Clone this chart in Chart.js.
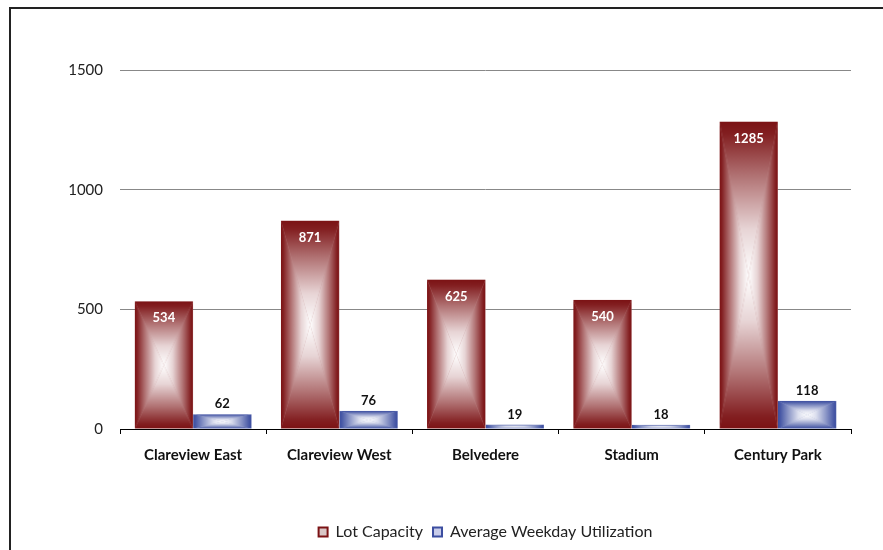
<!DOCTYPE html>
<html>
<head>
<meta charset="utf-8">
<script src="https://cdn.jsdelivr.net/npm/chart.js@4.4.1/dist/chart.umd.min.js"></script>
<style>
  html, body { margin: 0; padding: 0; background: #fff; }
  #wrap { position: relative; width: 883px; height: 550px; }
  #frame { position: absolute; left: 9px; top: 7px; right: 0; bottom: 0;
           border-left: 2px solid #222; border-top: 2px solid #222; }
  canvas { position: absolute; left: 0; top: 0; }
</style>
</head>
<body>
<div id="wrap">
  <div id="frame"></div>
  <canvas id="parkChart" width="883" height="550"></canvas>
</div>
<script>
const categories = ['Clareview East', 'Clareview West', 'Belvedere', 'Stadium', 'Century Park'];
const lotCapacity = [534, 871, 625, 540, 1285];
const weekdayUtilization = [62, 76, 19, 18, 118];
const yTicks = [0, 500, 1000, 1500];
const seriesNames = ['Lot Capacity', 'Average Weekday Utilization'];

const edgeColors = [[123, 18, 20], [60, 78, 160]];
const legendFills = ['#d9c6c6', '#c9cdea'];

function mix(rgb, t) {
    // t = 0 -> edge colour, t = 1 -> white
    const c = rgb.map(v => Math.round(v + (255 - v) * t));
    return `rgb(${c[0]},${c[1]},${c[2]})`;
}

function addStops(grad, rgb) {
    grad.addColorStop(0, mix(rgb, 0));
    grad.addColorStop(0.08, mix(rgb, 0.05));
    grad.addColorStop(0.35, mix(rgb, 0.4));
    grad.addColorStop(0.7, mix(rgb, 0.82));
    grad.addColorStop(1, mix(rgb, 1));
    return grad;
}

function tri(g, pts, fill) {
    g.beginPath();
    g.moveTo(pts[0][0], pts[0][1]);
    g.lineTo(pts[1][0], pts[1][1]);
    g.lineTo(pts[2][0], pts[2][1]);
    g.closePath();
    g.fillStyle = fill;
    g.fill();
}

const patternCache = {};

function makePattern(chartCtx, rgb, w, h, x0, y0) {
    const key = rgb.join() + '|' + w.toFixed(1) + '|' + h.toFixed(1) + '|' + x0.toFixed(1) + '|' + y0.toFixed(1);
    if (patternCache[key]) return patternCache[key];
    const c = document.createElement('canvas');
    c.width = Math.max(1, Math.ceil(w));
    c.height = Math.max(1, Math.ceil(h));
    const g = c.getContext('2d');
    const hw = w / 2, hh = h / 2;
    g.fillStyle = mix(rgb, 0.5);
    g.fillRect(0, 0, c.width, c.height);
    tri(g, [[0, 0], [w, 0], [hw, hh]], addStops(g.createLinearGradient(0, 0, 0, hh), rgb));
    tri(g, [[0, h], [w, h], [hw, hh]], addStops(g.createLinearGradient(0, h, 0, hh), rgb));
    tri(g, [[0, 0], [0, h], [hw, hh]], addStops(g.createLinearGradient(0, 0, hw, 0), rgb));
    tri(g, [[w, 0], [w, h], [hw, hh]], addStops(g.createLinearGradient(w, 0, hw, 0), rgb));
    const pat = chartCtx.createPattern(c, 'no-repeat');
    pat.setTransform(new DOMMatrix().translate(x0, y0));
    patternCache[key] = pat;
    return pat;
}

function barFill(dsIndex) {
    const rgb = edgeColors[dsIndex];
    return function (ctx) {
        if (ctx.type !== 'data') return mix(rgb, 0);
        const chart = ctx.chart;
        const xs = chart.scales.x, ys = chart.scales.y;
        if (!xs || !ys || !xs.width) return mix(rgb, 0);
        const catW = xs.width / categories.length;
        const barW = catW * 0.4;
        const cx = xs.getPixelForValue(ctx.dataIndex) + (dsIndex === 0 ? -barW / 2 : barW / 2);
        const top = ys.getPixelForValue(ctx.raw);
        const bottom = ys.getPixelForValue(0);
        return makePattern(chart.ctx, rgb, barW, bottom - top, cx - barW / 2, top);
    };
}

const valueLabels = {
    id: 'valueLabels',
    afterDatasetsDraw(chart) {
        const ctx = chart.ctx;
        ctx.save();
        ctx.font = 'bold 13px Lato';
        ctx.textAlign = 'center';
        ctx.textBaseline = 'middle';
        chart.data.datasets.forEach((ds, di) => {
            chart.getDatasetMeta(di).data.forEach((el, i) => {
                if (di === 0) {
                    ctx.fillStyle = '#ffffff';
                    ctx.fillText(ds.data[i], el.x, el.y + 17);
                } else {
                    ctx.fillStyle = '#111111';
                    ctx.fillText(ds.data[i], el.x, el.y - 10);
                }
            });
        });
        ctx.restore();
    }
};

new Chart(document.getElementById('parkChart'), {
    type: 'bar',
    data: {
        labels: categories,
        datasets: [
            { label: seriesNames[0], data: lotCapacity, backgroundColor: barFill(0) },
            { label: seriesNames[1], data: weekdayUtilization, backgroundColor: barFill(1) }
        ]
    },
    options: {
        responsive: false,
        animation: false,
        devicePixelRatio: 1,
        layout: { padding: { top: 70, right: 32, bottom: 0, left: 0 } },
        datasets: { bar: { categoryPercentage: 0.8, barPercentage: 1.0 } },
        scales: {
            x: {
                afterFit(scale) { scale.height += 38; },
                grid: { offset: true, drawOnChartArea: false, drawTicks: true, tickLength: 5, color: '#000' },
                border: { color: '#000', width: 1 },
                ticks: { color: '#111', font: { family: 'Lato', size: 15, weight: 'bold' }, padding: 12 }
            },
            y: {
                min: 0,
                max: 1500,
                afterFit(scale) { scale.width = 120; },
                afterBuildTicks(scale) { scale.ticks = yTicks.map(v => ({ value: v })); },
                grid: { color: '#888', drawTicks: false },
                border: { display: false },
                ticks: {
                    color: '#222',
                    font: { family: 'Lato', size: 15 },
                    padding: 17,
                    callback: v => String(v)
                }
            }
        },
        plugins: {
            tooltip: { enabled: false },
            legend: {
                position: 'bottom',
                fullSize: false,
                labels: {
                    boxWidth: 9,
                    boxHeight: 9,
                    padding: 10,
                    color: '#222',
                    font: { family: 'Lato', size: 16 },
                    generateLabels(chart) {
                        return chart.data.datasets.map((ds, i) => ({
                            text: ds.label,
                            fillStyle: legendFills[i],
                            strokeStyle: mix(edgeColors[i], 0),
                            lineWidth: 2,
                            fontColor: '#222',
                            hidden: false,
                            datasetIndex: i
                        }));
                    }
                }
            }
        }
    },
    plugins: [valueLabels]
});
</script>
</body>
</html>
